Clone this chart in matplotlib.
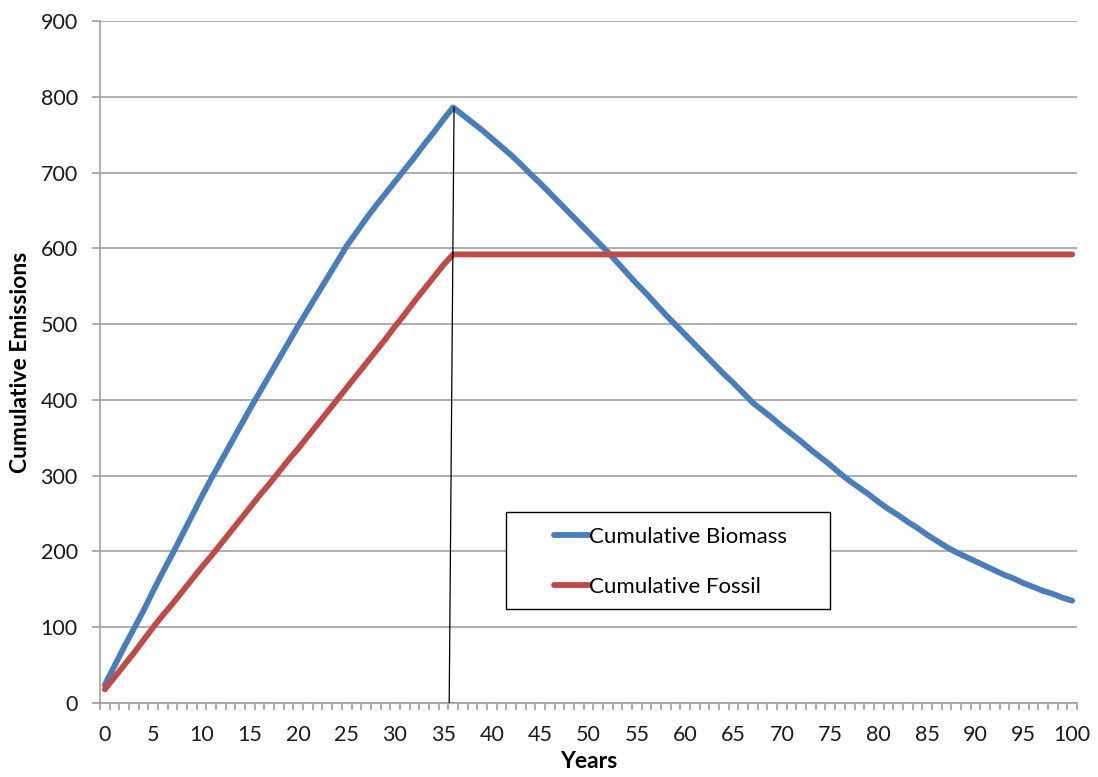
import numpy as np
import matplotlib
matplotlib.use("Agg")
import matplotlib.pyplot as plt
from matplotlib.patches import Rectangle

plt.rcParams['font.family'] = ['Lato', 'DejaVu Sans']

# Years 0..100
years = np.arange(0, 101)

biomass = [
    24, 49, 74, 98, 122, 148, 173, 197, 222, 247,
    272, 296, 319, 342, 365, 388, 410, 432, 454, 476,
    498, 519, 540, 561, 582, 603, 621, 639, 656, 672,
    688, 704, 720, 737, 753, 770, 786, 776, 766, 756,
    745, 734, 723, 711, 698, 686, 673, 660, 647, 634,
    621, 608, 595, 581, 567, 553, 540, 526, 512, 499,
    486, 473, 460, 447, 434, 422, 409, 396, 386, 376,
    365, 355, 345, 334, 324, 314, 303, 293, 284, 275,
    265, 256, 248, 239, 231, 222, 214, 206, 199, 193,
    187, 181, 175, 169, 164, 158, 153, 148, 144, 139,
    135,
]

fossil = [
    18, 34, 50, 66, 83, 100, 116, 131, 147, 163,
    179, 194, 210, 226, 242, 258, 274, 289, 305, 321,
    336, 352, 368, 384, 400, 416, 432, 448, 464, 480,
    497, 513, 530, 546, 562, 578, 592, 592, 592, 592,
    592, 592, 592, 592, 592, 592, 592, 592, 592, 592,
    592, 592, 592, 592, 592, 592, 592, 592, 592, 592,
    592, 592, 592, 592, 592, 592, 592, 592, 592, 592,
    592, 592, 592, 592, 592, 592, 592, 592, 592, 592,
    592, 592, 592, 592, 592, 592, 592, 592, 592, 592,
    592, 592, 592, 592, 592, 592, 592, 592, 592, 592,
    592,
]

labels = ["Cumulative Biomass", "Cumulative Fossil"]
colors = ["#4A7EBB", "#BE4B48"]

W, H = 1098, 777
fig = plt.figure(figsize=(W / 100, H / 100), dpi=100)
ax = fig.add_axes([100 / W, 1 - 703 / H, 977 / W, 682 / H])

ax.plot(years, biomass, color=colors[0], lw=4.2, label=labels[0],
        solid_capstyle="round", solid_joinstyle="round", zorder=3)
ax.plot(years, fossil, color=colors[1], lw=4.2, label=labels[1],
        solid_capstyle="round", solid_joinstyle="round", zorder=3)

# thin marker line dropped from the biomass peak
peak = int(np.argmax(biomass))
ax.plot([years[peak] + 0.1, years[peak] - 0.4], [biomass[peak], 0],
        color="black", lw=0.9, zorder=4)

# axes
ax.set_xlim(-0.5, 100.5)
ax.set_ylim(0, 900)
ax.set_yticks(np.arange(0, 901, 100))
ax.set_xticks(np.arange(0, 101, 5))
ax.set_xticks(np.arange(-0.5, 101, 1), minor=True)
ax.grid(axis="y", color="#A0A0A0", lw=1.2)
ax.set_axisbelow(True)

for s in ["top", "right"]:
    ax.spines[s].set_visible(False)
for s in ["left", "bottom"]:
    ax.spines[s].set_color("#A0A0A0")
    ax.spines[s].set_linewidth(1.2)

ax.tick_params(axis="y", length=6, width=1.2, color="#A0A0A0",
               labelsize=15.5, pad=10, labelcolor="#1a1a1a")
ax.tick_params(axis="x", which="major", length=0, labelsize=15.5, pad=16,
               labelcolor="#1a1a1a")
ax.tick_params(axis="x", which="minor", length=5, width=1.2, color="#A0A0A0")

ax.set_xlabel("Years", fontsize=16.5, fontweight="bold", labelpad=4)
ax.set_ylabel("Cumulative Emissions", fontsize=16.5, fontweight="bold", labelpad=7)

# legend box
ax.add_patch(Rectangle((506 / W, 1 - 609 / H), 324 / W, 97 / H,
                       transform=fig.transFigure, facecolor="white",
                       edgecolor="black", lw=1.0, zorder=5, clip_on=False))
leg = ax.legend(loc="center left", bbox_to_anchor=(543 / W, 1 - 562 / H),
                bbox_transform=fig.transFigure, frameon=False, fontsize=16,
                handlelength=1.55, handletextpad=0.0, labelspacing=1.35,
                borderpad=0)
leg.set_zorder(6)

fig.savefig("out.png", dpi=100)
